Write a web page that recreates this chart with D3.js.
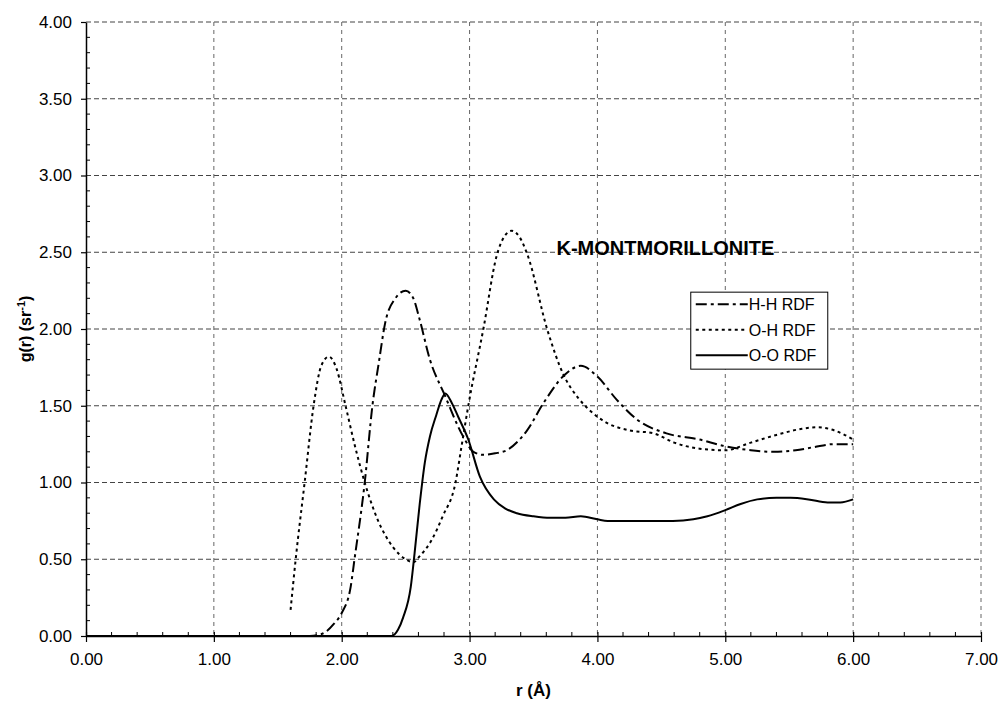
<!DOCTYPE html>
<html>
<head>
<meta charset="utf-8">
<script src="https://d3js.org/d3.v7.min.js"></script>
<style>
  body { margin: 0; background: #fff; }
  text { font-family: "Liberation Sans", Arial, sans-serif; fill: #000; }
</style>
</head>
<body>
<div id="chart"></div>
<script>
// Series data: [r (Å), g(r)]
var hhRdf = [[0, 0], [1.75, 0], [1.81, 0.005], [1.88, 0.03], [1.94, 0.08], [2.00, 0.15], [2.07, 0.32],
  [2.10, 0.50], [2.18, 1.00], [2.24, 1.50], [2.29, 1.78], [2.34, 2.04], [2.42, 2.20], [2.50, 2.25],
  [2.56, 2.20], [2.61, 2.06], [2.69, 1.80], [2.80, 1.58], [2.95, 1.30], [3.03, 1.20], [3.11, 1.18],
  [3.20, 1.19], [3.29, 1.21], [3.45, 1.34], [3.58, 1.52], [3.73, 1.69], [3.87, 1.76], [4.00, 1.69],
  [4.15, 1.54], [4.31, 1.41], [4.54, 1.32], [4.80, 1.28], [4.98, 1.24], [5.20, 1.21], [5.38, 1.20],
  [5.55, 1.21], [5.69, 1.23], [5.85, 1.25], [6.00, 1.25]];

var ohRdf = [[1.60, 0.17], [1.64, 0.50], [1.71, 1.00], [1.78, 1.50], [1.84, 1.76], [1.90, 1.82],
  [1.96, 1.74], [2.03, 1.50], [2.10, 1.25], [2.18, 1.00], [2.28, 0.76], [2.40, 0.58], [2.50, 0.50],
  [2.56, 0.48], [2.61, 0.52], [2.70, 0.62], [2.79, 0.78], [2.89, 1.00], [2.94, 1.25], [2.99, 1.50],
  [3.11, 2.01], [3.21, 2.47], [3.27, 2.60], [3.33, 2.64], [3.39, 2.60], [3.45, 2.49], [3.61, 1.99],
  [3.73, 1.71], [3.85, 1.55], [3.94, 1.47], [4.07, 1.39], [4.25, 1.34], [4.44, 1.32], [4.60, 1.26],
  [4.80, 1.22], [5.00, 1.21], [5.20, 1.26], [5.40, 1.31], [5.60, 1.35], [5.72, 1.36], [5.85, 1.34],
  [6.00, 1.28]];

var ooRdf = [[0, 0], [2.39, 0], [2.44, 0.04], [2.48, 0.12], [2.54, 0.32], [2.57, 0.54], [2.61, 0.86],
  [2.65, 1.13], [2.69, 1.30], [2.74, 1.44], [2.78, 1.54], [2.81, 1.58], [2.86, 1.52], [2.91, 1.43],
  [2.99, 1.28], [3.08, 1.04], [3.19, 0.89], [3.28, 0.83], [3.37, 0.80], [3.50, 0.78], [3.63, 0.77],
  [3.75, 0.77], [3.87, 0.78], [4.00, 0.76], [4.08, 0.75], [4.28, 0.75], [4.45, 0.75], [4.59, 0.75],
  [4.75, 0.76], [4.86, 0.78], [5.00, 0.82], [5.12, 0.86], [5.25, 0.89], [5.40, 0.90], [5.51, 0.90],
  [5.65, 0.89], [5.80, 0.87], [5.90, 0.87], [6.00, 0.89]];

var seriesNames = ["H-H RDF", "O-H RDF", "O-O RDF"];
var xTicks = [0, 1, 2, 3, 4, 5, 6, 7];
var yTicks = [0, 0.5, 1, 1.5, 2, 2.5, 3, 3.5, 4];
var chartTitle = "K-MONTMORILLONITE";

// SVG area
var svgWidth = 1002;
var svgHeight = 703;

var margin = { top: 22, right: 21, bottom: 67, left: 86 };
var chartWidth = svgWidth - margin.left - margin.right;
var chartHeight = svgHeight - margin.top - margin.bottom;

var svg = d3.select("#chart")
  .append("svg")
  .attr("width", svgWidth)
  .attr("height", svgHeight);

var chartGroup = svg.append("g")
  .attr("transform", `translate(${margin.left}, ${margin.top})`);

// Scales
var xScale = d3.scaleLinear().domain([0, 7]).range([0, chartWidth]);
var yScale = d3.scaleLinear().domain([0, 4]).range([chartHeight, 0]);

// Dashed grid lines
chartGroup.append("g")
  .selectAll("line")
  .data(yTicks.filter(d => d > 0))
  .enter()
  .append("line")
  .attr("x1", 0)
  .attr("x2", chartWidth)
  .attr("y1", d => yScale(d))
  .attr("y2", d => yScale(d))
  .attr("stroke", "#444")
  .attr("stroke-width", 1)
  .attr("stroke-dasharray", "5,3");

chartGroup.append("g")
  .selectAll("line")
  .data(xTicks.filter(d => d > 0))
  .enter()
  .append("line")
  .attr("x1", d => xScale(d))
  .attr("x2", d => xScale(d))
  .attr("y1", 0)
  .attr("y2", chartHeight)
  .attr("stroke", "#666")
  .attr("stroke-width", 1)
  .attr("stroke-dasharray", "4,4");

// Axes: major ticks with labels
var leftAxis = d3.axisLeft(yScale)
  .tickValues(yTicks)
  .tickFormat(d3.format(".2f"))
  .tickSizeInner(5)
  .tickSizeOuter(0)
  .tickPadding(9);

var bottomAxis = d3.axisBottom(xScale)
  .tickValues(xTicks)
  .tickFormat(d3.format(".2f"))
  .tickSizeInner(6)
  .tickSizeOuter(0)
  .tickPadding(11);

var yAxisG = chartGroup.append("g").call(leftAxis);
var xAxisG = chartGroup.append("g")
  .attr("transform", "translate(0, " + chartHeight + ")")
  .call(bottomAxis);

[yAxisG, xAxisG].forEach(function(g) {
  g.select(".domain").attr("stroke", "#000").attr("stroke-width", 1.5);
  g.selectAll(".tick line").attr("stroke", "#000").attr("stroke-width", 1.2);
  g.selectAll(".tick text")
    .style("font-size", "17px")
    .style("font-family", '"Liberation Sans", Arial, sans-serif')
    .attr("fill", "#000");
});

// major x ticks also poke up into the plot
xAxisG.selectAll(".tick line").attr("y1", -4);

// Minor ticks, pointing inwards
var yMinor = d3.range(0, 41).map(d => d / 10).filter(d => Math.round(d * 10) % 5 !== 0);
chartGroup.append("g")
  .selectAll("line")
  .data(yMinor)
  .enter()
  .append("line")
  .attr("x1", 0)
  .attr("x2", 4)
  .attr("y1", d => yScale(d))
  .attr("y2", d => yScale(d))
  .attr("stroke", "#000");

var xMinor = d3.range(0, 36).map(d => d / 5).filter(d => Math.round(d * 5) % 5 !== 0);
chartGroup.append("g")
  .selectAll("line")
  .data(xMinor)
  .enter()
  .append("line")
  .attr("x1", d => xScale(d))
  .attr("x2", d => xScale(d))
  .attr("y1", chartHeight)
  .attr("y2", chartHeight - 4)
  .attr("stroke", "#000");

// Curves
var drawLine = d3.line()
  .x(d => xScale(d[0]))
  .y(d => yScale(d[1]))
  .curve(d3.curveMonotoneX);

var styles = [
  { data: hhRdf, dash: "11,4,3,4" },
  { data: ohRdf, dash: "3,3.5" },
  { data: ooRdf, dash: null }
];

styles.forEach(function(s) {
  chartGroup.append("path")
    .attr("d", drawLine(s.data))
    .attr("fill", "none")
    .attr("stroke", "#000")
    .attr("stroke-width", 2)
    .attr("stroke-dasharray", s.dash);
});

// Title inside the plot
chartGroup.append("text")
  .attr("x", xScale(3.68))
  .attr("y", yScale(2.48))
  .style("font-size", "20px")
  .style("font-weight", "bold")
  .text(chartTitle);

// Legend
var legend = chartGroup.append("g")
  .attr("transform", `translate(${xScale(4.73)}, ${yScale(2.24)})`);

legend.append("rect")
  .attr("width", 137)
  .attr("height", 77)
  .attr("fill", "#fff")
  .attr("stroke", "#000")
  .attr("stroke-width", 1);

seriesNames.forEach(function(name, i) {
  var yy = 12 + i * 25.5;
  legend.append("line")
    .attr("x1", 5)
    .attr("x2", 57)
    .attr("y1", yy)
    .attr("y2", yy)
    .attr("stroke", "#000")
    .attr("stroke-width", 2)
    .attr("stroke-dasharray", styles[i].dash);
  legend.append("text")
    .attr("x", 58)
    .attr("y", yy + 6)
    .style("font-size", "16px")
    .text(name);
});

// Axis labels
chartGroup.append("text")
  .attr("x", chartWidth / 2)
  .attr("y", chartHeight + 60)
  .attr("text-anchor", "middle")
  .style("font-size", "17px")
  .style("font-weight", "bold")
  .text("r (Å)");

var yLabel = chartGroup.append("text")
  .attr("transform", "rotate(-90)")
  .attr("x", -(chartHeight / 2))
  .attr("y", -55)
  .attr("text-anchor", "middle")
  .style("font-size", "16px")
  .style("font-weight", "bold");
yLabel.append("tspan").text("g(r) (sr");
yLabel.append("tspan").attr("dy", -6).style("font-size", "11px").text("-1");
yLabel.append("tspan").attr("dy", 6).text(")");
</script>
</body>
</html>
